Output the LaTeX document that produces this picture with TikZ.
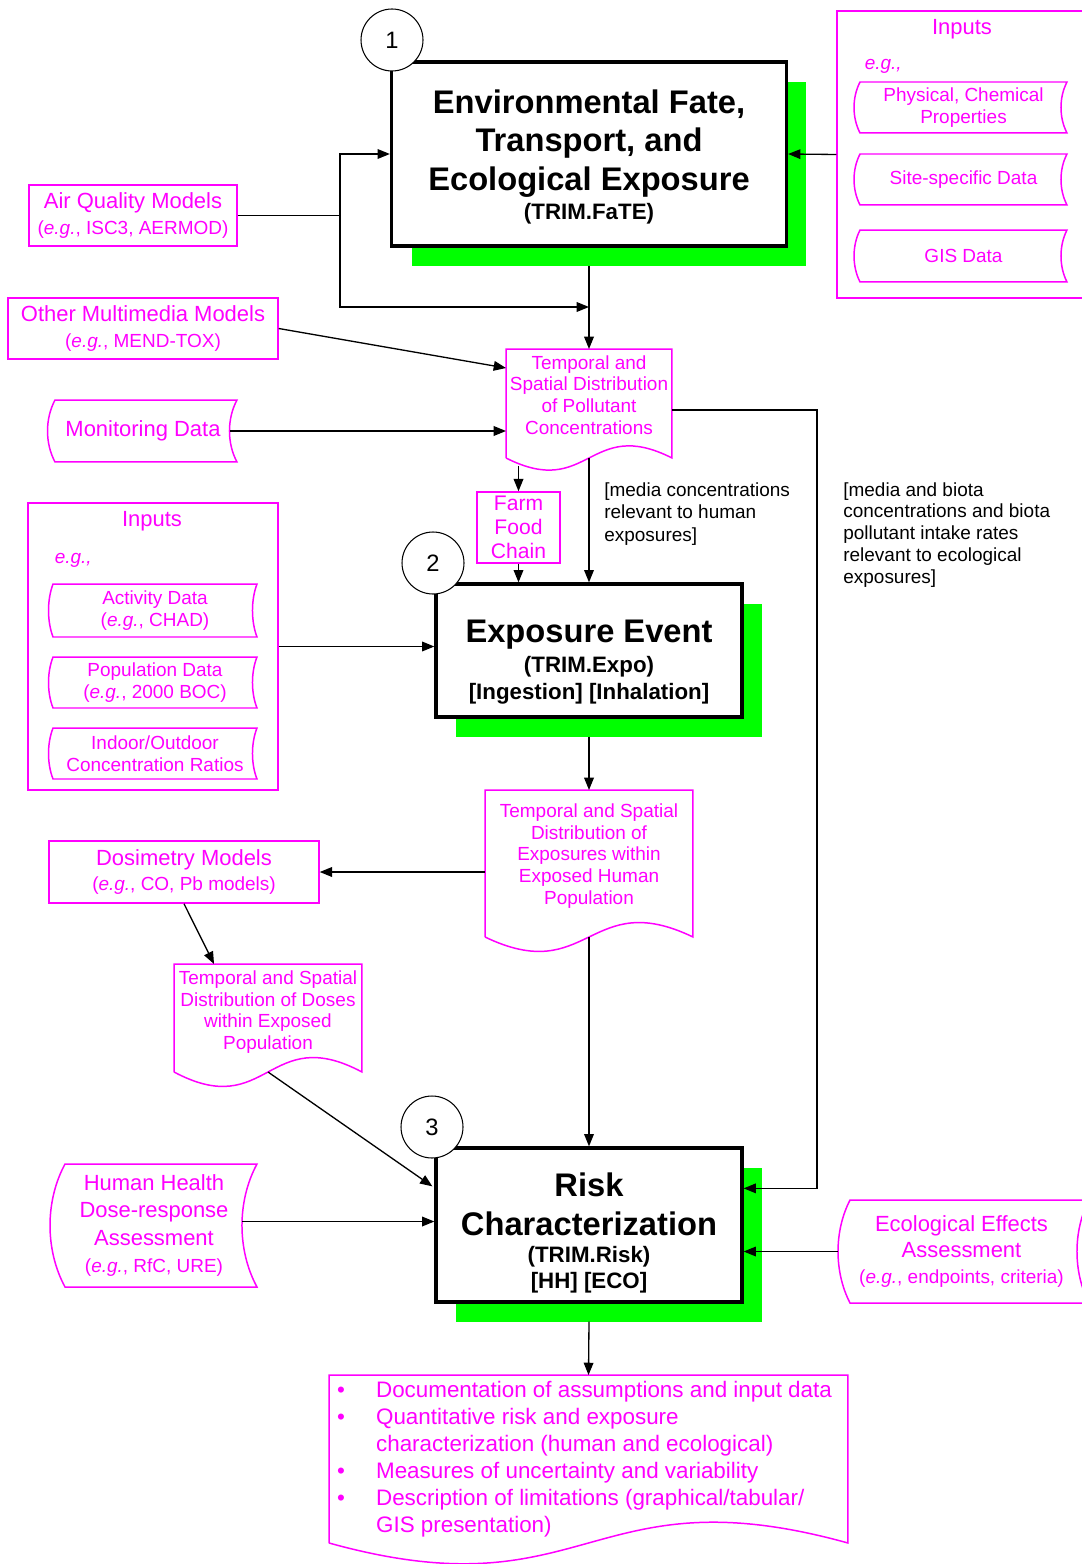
\documentclass[tikz,border=0pt]{standalone}
\usepackage{fontspec}
\setmainfont{Liberation Sans}
\usetikzlibrary{calc,arrows.meta,shadows}
\definecolor{mag}{RGB}{255,0,255}
\definecolor{shgreen}{RGB}{0,255,0}
\newcommand\bigt{\fontsize{18.6}{22}\selectfont\bfseries}
\newcommand\subt{\fontsize{12.7}{15}\selectfont\bfseries}
\newcommand\magt{\fontsize{12.5}{14.5}\selectfont}
\newcommand\smt{\fontsize{10.8}{12.4}\selectfont}
\newcommand\eg{\textit{e.g.}}
\newcommand\rpad[1]{\hspace*{#1}\mbox{}}
% document shape: node, tail below node, wave
\newcommand\docshape[3]{\draw[magline] ($(#1.south west)+(0,#2)$) -- (#1.north west) -- (#1.north east) -- ($(#1.south east)+(0,#2)$) .. controls ($(#1.south)+(0,#2-#3)$) and ($(#1.south)+(0,#2+#3)$) .. ($(#1.south west)+(0,#2)$);
  \coordinate (#1-b) at ($(#1.south)+(0,#2)$);}
% stored data shape: node, bulge
\newcommand\storeshape[2]{\draw[magline] (#1.north west) .. controls ($(#1.north west)!.3!(#1.south west)+(-#2,0)$) and ($(#1.north west)!.7!(#1.south west)+(-#2,0)$) .. (#1.south west) -- (#1.south east) .. controls ($(#1.north east)!.7!(#1.south east)+(-#2,0)$) and ($(#1.north east)!.3!(#1.south east)+(-#2,0)$) .. (#1.north east) -- cycle;}

\begin{document}
\begin{tikzpicture}[x=0.02cm,y=-0.02cm,
	mainbox/.style={draw,line width=1.9pt,fill=white,align=center,inner sep=2pt,
		general shadow={fill=shgreen,shadow xshift=0.4cm,shadow yshift=-0.4cm}},
	numc/.style={circle,draw,line width=0.6pt,fill=white,minimum size=1.24cm,inner sep=0pt,font=\fontsize{13.5}{16}\selectfont},
	magline/.style={draw=mag,line width=0.85pt},
	magbox/.style={draw=mag,line width=0.85pt,text=mag,align=center,inner sep=1pt},
	shapetxt/.style={text=mag,align=center,inner sep=1pt,outer sep=0pt},
	note/.style={align=left,inner sep=0pt,anchor=north west,font=\fontsize{10.8}{13}\selectfont},
	conn/.style={line width=0.75pt,-{Triangle[length=7pt,width=5.5pt]}}]
	%%%%% START %%%%%
	\useasboundingbox (0,0) rectangle (1081,1564);
	
	% stage 1
	\node[mainbox,minimum width=7.9cm,minimum height=3.68cm,font=\bigt] (fate) at (589,154) {\rule{0pt}{16.5pt}Environmental Fate,\\Transport, and\\Ecological Exposure\\[-5.7pt]{\subt (TRIM.FaTE)}};
	\node[numc] (n1) at (392,40) {1};
	
	\node[magbox,minimum width=4.96cm,minimum height=5.74cm] (inr) at (961,154.5) {};
	\node[shapetxt,font=\magt] (inr-t) at (962,29) {Inputs};
	\node[shapetxt,font=\smt\itshape,anchor=west] (inr-eg) at (863,66) {e.g.,};
	\node[shapetxt,minimum width=4.14cm,minimum height=1.02cm,font=\smt] (phys) at (963.5,107.5) {Physical, Chemical\\Properties};
	\storeshape{phys}{8}
	\node[shapetxt,minimum width=4.14cm,minimum height=1.02cm,font=\smt] (site) at (963.5,179.5) {Site-specific Data};
	\storeshape{site}{8}
	\node[shapetxt,minimum width=4.14cm,minimum height=1.04cm,font=\smt] (gis) at (963.5,256) {GIS Data};
	\storeshape{gis}{8}
	
	\node[magbox,minimum width=4.16cm,minimum height=1.22cm,font=\magt] (aq) at (133,215.5) {Air Quality Models\\{\smt (\eg, ISC3, AERMOD)}};
	\node[magbox,minimum width=5.4cm,minimum height=1.22cm,font=\magt] (omm) at (143,328.5) {Other Multimedia Models\\{\smt (\eg, MEND-TOX)}};
	\node[shapetxt,minimum width=3.64cm,minimum height=1.24cm,font=\magt] (mon) at (146,431) {Monitoring Data\rpad{0.12cm}};
	\storeshape{mon}{10}
	
	\node[shapetxt,minimum width=3.32cm,minimum height=1.84cm,font=\smt] (pollut) at (589,395) {Temporal and\\Spatial Distribution\\of Pollutant\\Concentrations};
	\docshape{pollut}{17}{42}
	\node[magbox,minimum width=1.66cm,minimum height=1.42cm,font=\fontsize{12}{13.6}\selectfont] (farm) at (518.5,527.5) {Farm\\Food\\Chain};
	
	\node[note] (hnote) at (604,482) {[media concentrations\\relevant to human\\exposures]};
	\node[note,font=\fontsize{10.8}{12.4}\selectfont] (enote) at (843,482) {[media and biota\\concentrations and biota\\pollutant intake rates\\relevant to ecological\\exposures]};
	
	% stage 2
	\node[mainbox,minimum width=6.12cm,minimum height=2.66cm,font=\bigt] (expo) at (589,650.5) {\rule{0pt}{26pt}Exposure Event\\[-4.5pt]{\subt (TRIM.Expo)}\\[-6.7pt]{\subt [Ingestion] [Inhalation]}};
	\node[numc] (n2) at (433,563) {2};
	
	\node[magbox,minimum width=5.0cm,minimum height=5.74cm] (inl) at (153,646.5) {};
	\node[shapetxt,font=\magt] (inl-t) at (152,521) {Inputs};
	\node[shapetxt,font=\smt\itshape,anchor=west] (inl-eg) at (53,560) {e.g.,};
	\node[shapetxt,minimum width=4.08cm,minimum height=1.06cm,font=\smt] (act) at (155,610.5) {Activity Data\\(\eg, CHAD)};
	\storeshape{act}{6}
	\node[shapetxt,minimum width=4.08cm,minimum height=1.02cm,font=\smt] (pop) at (155,682.5) {Population Data\\(\eg, 2000 BOC)};
	\storeshape{pop}{6}
	\node[shapetxt,minimum width=4.08cm,minimum height=1.02cm,font=\smt] (ind) at (155,753.5) {Indoor/Outdoor\\Concentration Ratios};
	\storeshape{ind}{6}
	
	\node[shapetxt,minimum width=4.16cm,minimum height=2.64cm,font=\smt] (hexp) at (589,856) {Temporal and Spatial\\Distribution of\\Exposures within\\Exposed Human\\Population};
	\docshape{hexp}{15}{50}
	\node[magbox,minimum width=5.4cm,minimum height=1.24cm,font=\magt] (dosi) at (184,872) {Dosimetry Models\\{\smt (\eg, CO, Pb models)}};
	\node[shapetxt,minimum width=3.76cm,minimum height=1.92cm,font=\smt] (doses) at (268,1012) {Temporal and Spatial\\Distribution of Doses\\within Exposed\\Population};
	\docshape{doses}{12}{50}
	
	% stage 3
	\node[mainbox,minimum width=6.12cm,minimum height=3.08cm,font=\bigt] (risk) at (589,1225) {\rule{0pt}{23pt}Risk\\Characterization\\[-6.8pt]{\subt (TRIM.Risk)}\\[-6.8pt]{\subt [HH] [ECO]}};
	\node[numc] (n3) at (432,1127) {3};
	
	\node[shapetxt,minimum width=3.84cm,minimum height=2.46cm,font=\fontsize{12.5}{15.6}\selectfont] (hh) at (161,1225.5) {Human Health\rpad{0.28cm}\\Dose-response\rpad{0.28cm}\\Assessment\rpad{0.28cm}\\{\smt (\eg, RfC, URE)}\rpad{0.28cm}};
	\storeshape{hh}{20}
	\node[shapetxt,minimum width=4.78cm,minimum height=2.06cm,font=\fontsize{12.5}{14.7}\selectfont] (eco) at (969.5,1251.5) {Ecological Effects\rpad{0.32cm}\\Assessment\rpad{0.32cm}\\{\smt (\eg, endpoints, criteria)}\rpad{0.32cm}};
	\storeshape{eco}{16}
	
	\node[shapetxt,align=left,minimum width=10.38cm,minimum height=3.36cm,font=\fontsize{12.75}{15.4}\selectfont] (outl) at (588.5,1459) {%
		\makebox[0.78cm][l]{\textbullet}Documentation of assumptions and input data\rpad{0.16cm}\\
		\makebox[0.78cm][l]{\textbullet}Quantitative risk and exposure\\
		\hspace*{0.78cm}characterization (human and ecological)\\
		\makebox[0.78cm][l]{\textbullet}Measures of uncertainty and variability\\
		\makebox[0.78cm][l]{\textbullet}Description of limitations (graphical/tabular/\\
		\hspace*{0.78cm}GIS presentation)};
	\docshape{outl}{0}{72}
	
	% connectors
	\coordinate (aqj) at (340,215.5);
	\coordinate (mrg) at (fate.south |- 0,307);
	\draw[conn] (aq.east) -- (aqj) |- (fate.west);
	\draw[conn] (aqj) |- (mrg);
	\draw[conn] (inr.west) -- (fate.east);
	\draw[conn] (fate.south) ++(0,18) -- (pollut.north);
	\draw[conn] (omm.east) -- ($(pollut.north west)+(0,19)$);
	\draw[conn] (mon.east) ++(-7,0) -- (pollut.west |- mon.east);
	\draw[conn] (pollut.north east) ++(0,61) -- ++(145,0) |- ($(risk.north east)+(0,42)$);
	\draw[conn] (pollut-b) -- (expo.north);
	\draw[conn] (farm.north |- pollut-b) ++(0,8) -- (farm.north);
	\draw[conn] (farm.south) -- (farm.south |- expo.north);
	\draw[conn] (inl.east) -- (inl.east -| expo.west);
	\draw[conn] (expo.south) ++(0,18) -- (hexp.north);
	\draw[conn] (hexp.west |- dosi.east) -- (dosi.east);
	\draw[conn] (dosi.south) -- ($(doses.north west)+(40,0)$);
	\draw[conn] (doses-b) -- ($(risk.north west)+(-2,40)$);
	\draw[conn] (hexp-b) -- (risk.north);
	\draw[conn] (hh.east) ++(-15,-4) -- ($(hh.east -| risk.west)+(0,-4)$);
	\draw[conn] (eco.west) ++(-12,0) -- (risk.east |- eco.west);
	\draw[conn] (risk.south) ++(0,18) -- (outl.north);
	
	%%%%% END %%%%%
\end{tikzpicture}
\end{document}
